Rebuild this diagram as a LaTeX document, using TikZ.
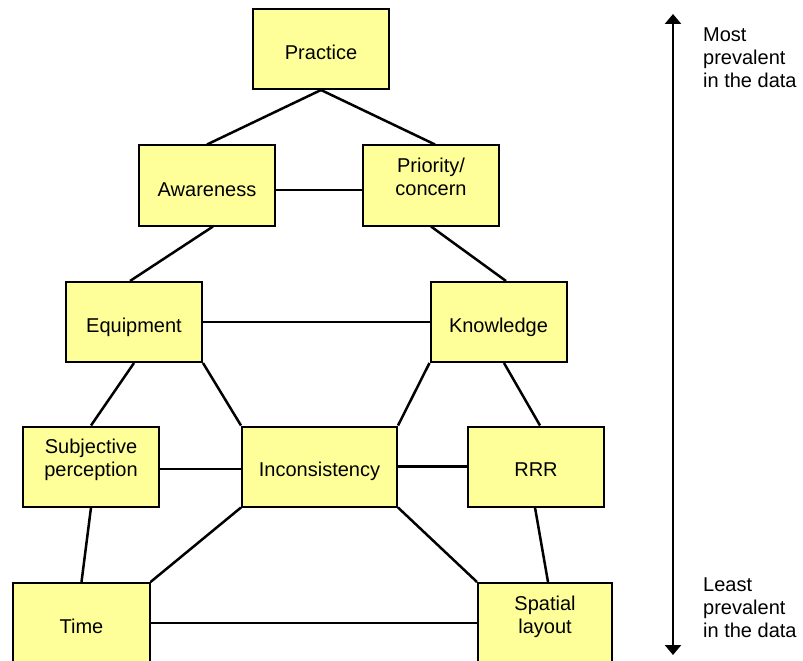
\documentclass[tikz,border=0pt]{standalone}
\usepackage{fontspec}
\setmainfont{Liberation Sans}
\usetikzlibrary{arrows.meta}
\definecolor{boxfill}{HTML}{FFFF99}
\begin{document}
\begin{tikzpicture}[x=1bp,y=-1bp,
  box/.style={draw=black,fill=boxfill,line width=2bp,inner sep=0pt,
              minimum width=136bp,minimum height=80bp},
  lbl/.style={inner sep=0pt,align=center,anchor=base,
              font=\fontsize{20bp}{23bp}\selectfont},
  side/.style={inner sep=0pt,align=left,anchor=base west,
              font=\fontsize{20bp}{23bp}\selectfont},
  link/.style={draw=black,line width=2.5bp}]
\useasboundingbox (0,0) rectangle (803,661);
\clip (0,0) rectangle (803,661);

% boxes
\node[box] (prac) at (321,49) {};
\node[box] (awar) at (207,185.5) {};
\node[box] (prio) at (431,185.5) {};
\node[box] (equi) at (134,322) {};
\node[box] (know) at (498.5,322) {};
\node[box] (subj) at (91,466.5) {};
\node[box,minimum width=155bp] (inco) at (319.5,466.5) {};
\node[box] (rrr)  at (536,466.5) {};
\node[box] (time) at (81.5,623) {};
\node[box,minimum width=134bp] (spat) at (545,623) {};

% labels (anchored at the baseline of the last line)
\node[lbl] (tprac) at (321,59.5) {Practice};
\node[lbl] (tawar) at (207,196) {Awareness};
\node[lbl] (tprio) at (431,195.5) {Priority/\\concern};
\node[lbl] (tequi) at (134,332) {Equipment};
\node[lbl] (tknow) at (498.5,332) {Knowledge};
\node[lbl] (tsubj) at (91,476) {Subjective\\perception};
\node[lbl] (tinco) at (319.5,476.5) {Inconsistency};
\node[lbl] (trrr)  at (536,476.5) {RRR};
\node[lbl] (ttime) at (81.5,633) {Time};
\node[lbl] (tspat) at (545,633) {Spatial\\layout};

% connectors
\draw[link] (prac.south) -- (awar.north);
\draw[link] (prac.south) -- ([xshift=4bp]prio.north);
\draw[link] ([yshift=-4.5bp]awar.east) -- ([yshift=-4.5bp]prio.west);
\draw[link] ([xshift=6bp]awar.south) -- ([xshift=-4bp]equi.north);
\draw[link] (prio.south) -- ([xshift=7.5bp]know.north);
\draw[link] (equi.east) -- (know.west);
\draw[link] (equi.south) -- (subj.north);
\draw[link] (equi.south east) -- (inco.north west);
\draw[link] (know.south west) -- (inco.north east);
\draw[link] ([xshift=5.5bp]know.south) -- ([xshift=4bp]rrr.north);
\draw[link] ([yshift=-2.5bp]subj.east) -- ([yshift=-2.5bp]inco.west);
\draw[link] (inco.east) -- (rrr.west);
\draw[link] (subj.south) -- (time.north);
\draw[link] (inco.south west) -- (time.north east);
\draw[link] (inco.south east) -- (spat.north west);
\draw[link] ([xshift=-1bp]rrr.south) -- ([xshift=3bp]spat.north);
\draw[link] (time.east) -- (spat.west);

% prevalence scale
\coordinate (scaletop) at (673,14);
\coordinate (scalebot) at (673,655);
\draw[line width=2.5bp,{Triangle[width=16bp,length=10bp]}-{Triangle[width=16bp,length=10bp]}]
  (scaletop) -- (scalebot);
\node[side] (most)  at (703,88)  {Most\\prevalent\\in the data};
\node[side] (least) at (703,637) {Least\\prevalent\\in the data};
\end{tikzpicture}
\end{document}
